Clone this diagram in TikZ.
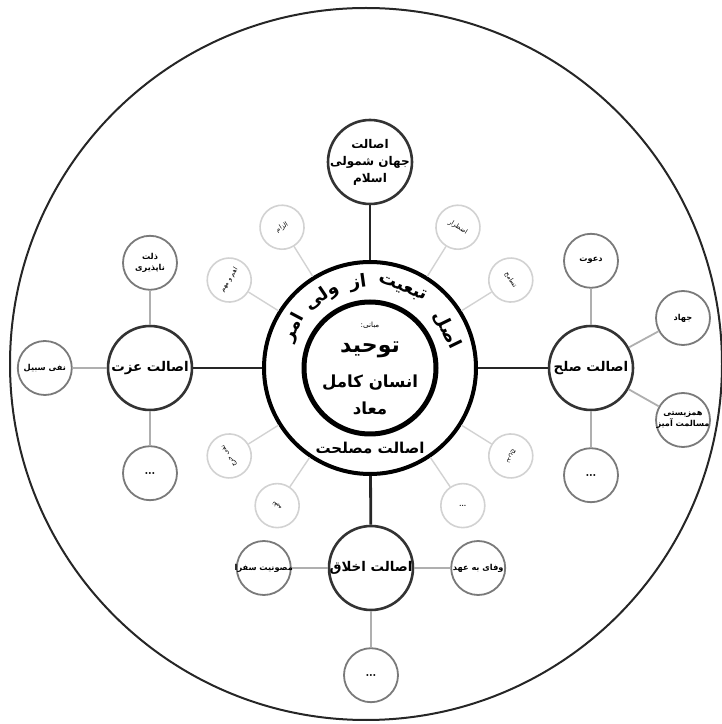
\documentclass[tikz,border=0pt]{standalone}
\usepackage{fontspec}
\usepackage{tikz}
\usetikzlibrary{positioning}
\newfontfamily\farsi[Script=Arabic]{DejaVu Sans}
\TeXXeTstate=1
\newcommand{\rtl}[1]{\beginR #1\endR}
\definecolor{subgray}{HTML}{7A7A7A}
\definecolor{faintgray}{HTML}{D2D2D2}
\tikzset{
  principle/.style={circle, draw=black!80, line width=1.3pt, fill=white,
    minimum size=42pt, inner sep=-2pt, align=center,
    font=\farsi\bfseries\fontsize{6.7}{8.5}\selectfont},
  branch/.style={circle, draw=subgray, line width=0.9pt, fill=white,
    minimum size=27pt, inner sep=-4pt, align=center,
    font=\farsi\bfseries\fontsize{4.1}{5.4}\selectfont},
  rulenode/.style={circle, draw=faintgray, line width=0.8pt, fill=white,
    minimum size=22pt, inner sep=-2pt,
    font=\farsi\fontsize{3.2}{4}\selectfont},
  mainlink/.style={line width=1.4pt, black!85},
  branchlink/.style={line width=0.9pt, subgray!60},
  rulelink/.style={line width=0.7pt, faintgray},
}

\begin{document}
\begin{tikzpicture}[x=0.5pt, y=0.5pt, node distance=17pt]
    \useasboundingbox (0,0) rectangle (722,724);
    % frame
    \draw[line width=1pt, black!85] (366,360) circle[radius=356];

    % hub
    \coordinate (hub) at (370,356);
    \node[circle, draw, line width=2pt, minimum size=106pt] (ring) at (hub) {};
    \node[circle, draw, line width=2.5pt, minimum size=66pt] (core) at (hub) {};
    \node[font=\farsi\fontsize{3.6}{4}\selectfont] (basics)
      at ([yshift=21.5pt]hub) {\rtl{مبانی:}};
    \node[font=\farsi\bfseries\fontsize{11}{12}\selectfont] (tawhid)
      at ([yshift=9pt]hub) {\rtl{توحید}};
    \node[font=\farsi\bfseries\fontsize{8.3}{10}\selectfont] (insan)
      at ([yshift=-7.5pt]hub) {\rtl{انسان کامل}};
    \node[font=\farsi\bfseries\fontsize{8.3}{10}\selectfont] (maad)
      at ([yshift=-20pt]hub) {\rtl{معاد}};
    \foreach \ang/\word in {26/اصل, 68/تبعیت, 98/از, 124/ولی, 152/امر}
      \node[font=\farsi\bfseries\fontsize{9}{10}\selectfont, rotate=\ang-90,
            inner sep=0pt] (title-\ang) at ([shift={(\ang:86)}]hub) {\rtl{\word}};
    \node[font=\farsi\bfseries\fontsize{7.5}{8}\selectfont] (maslahat)
      at ([yshift=-40pt]hub) {\rtl{اصالت مصلحت}};

    % main principles
    \node[principle, font=\farsi\bfseries\fontsize{6}{8.5}\selectfont] (universal) at (370,562)
      {\rtl{اصالت}\\\rtl{جهان شمولی}\\\rtl{اسلام}};
    \node[principle] (peace) at (591,356) {\rtl{اصالت صلح}};
    \node[principle] (izzat) at (150,356) {\rtl{اصالت عزت}};
    \node[principle] (ethics) at (371,156) {\rtl{اصالت اخلاق}};
    \foreach \p in {universal, peace, izzat, ethics}
      \draw[mainlink] (ring) -- (\p);

    % branches of izzat
    \node[branch, above=of izzat] (zellat) {\rtl{ذلت}\\\rtl{ناپذیری}};
    \node[branch, left=of izzat] (nafy) {\rtl{نفی سبیل}};
    \node[branch, below=of izzat, font=\bfseries\fontsize{6}{8}\selectfont] (izzat-more) {\ldots};
    \foreach \b in {zellat, nafy, izzat-more}
      \draw[branchlink] (izzat) -- (\b);

    % branches of peace
    \node[branch, above=18pt of peace] (davat) {\rtl{دعوت}};
    \node[branch] (jihad) at (683,406) {\rtl{جهاد}};
    \node[branch] (coexist) at (683,304) {\rtl{همزیستی}\\\rtl{مسالمت آمیز}};
    \node[branch, below=18pt of peace, font=\bfseries\fontsize{6}{8}\selectfont] (peace-more) {\ldots};
    \foreach \b in {davat, jihad, coexist, peace-more}
      \draw[branchlink] (peace) -- (\b);

    % branches of ethics
    \node[branch, left=18pt of ethics] (envoys) {\rtl{مصونیت سفرا}};
    \node[branch, right=18pt of ethics] (pledge) {\rtl{وفای به عهد}};
    \node[branch, below=18pt of ethics, font=\bfseries\fontsize{6}{8}\selectfont] (ethics-more) {\ldots};
    \foreach \b in {envoys, pledge, ethics-more}
      \draw[branchlink] (ethics) -- (\b);

    % rules around the hub
    \foreach \ang/\txt in {32/تسامح, 58/اضطرار, 122/الزام, 148/اهم و مهم,
                           212/نفی حرج, 236/تقیه, 328/تدریج} {
      \node[rulenode, rotate=\ang-90] (rule-\ang) at ([shift={(\ang:166)}]hub) {\rtl{\txt}};
      \draw[rulelink] (ring) -- (rule-\ang);
    }
    \node[rulenode, font=\fontsize{5}{6}\selectfont] (rule-304)
      at ([shift={(304:166)}]hub) {\ldots};
    \draw[rulelink] (ring) -- (rule-304);
\end{tikzpicture}
\end{document}
